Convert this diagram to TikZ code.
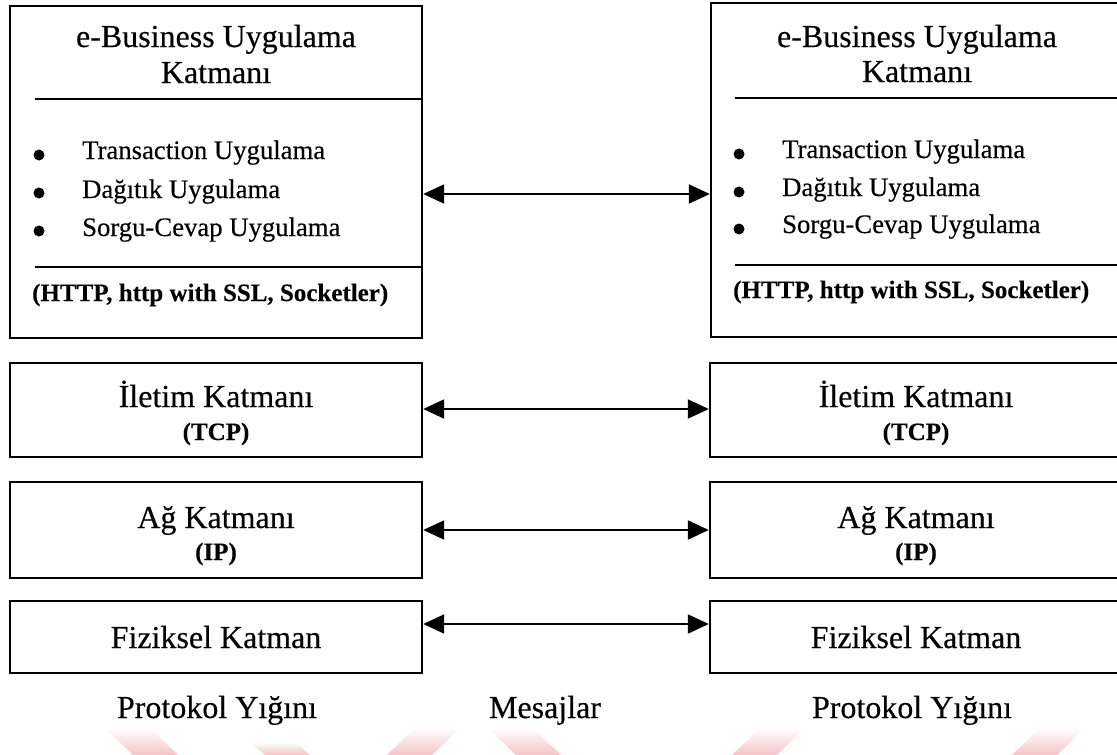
\documentclass[tikz,border=0pt]{standalone}
\usepackage{fontspec}
\setmainfont{Liberation Serif}[UprightFeatures={FakeBold=0.35},BoldFeatures={FakeBold=0.25}]
\usetikzlibrary{arrows.meta,calc}
\definecolor{markpink}{RGB}{246,196,200}
\begin{document}
\begin{tikzpicture}[x=1pt,y=-1pt,
  layerbox/.style={draw=black,line width=2.4pt,minimum width=412pt,inner sep=0pt},
  sepline/.style={line width=2.6pt},
  msg/.style={line width=2pt,{Triangle[length=21pt,width=19pt]}-{Triangle[length=21pt,width=19pt]}},
  bulletdot/.style={circle,fill=black,minimum size=11pt,inner sep=0pt},
  big/.style={inner sep=0pt,font=\fontsize{32}{38}\selectfont},
  small/.style={inner sep=0pt,font=\fontsize{26.7}{32}\selectfont},
  smallbold/.style={inner sep=0pt,font=\fontsize{25}{30}\selectfont\bfseries},
  band/.style={draw=none,top color=white,bottom color=markpink}]
\useasboundingbox (0,0) rectangle (1117,755);
\clip (0,0) rectangle (1117,755);

% ---- faint pink bands along the lower edge ----
\shade[band] (105,728) -- (150,728) -- (178,755) -- (133,755) -- cycle;
\shade[band] (250,742) -- (295,742) -- (310,755) -- (265,755) -- cycle;
\shade[band] (415,728) -- (460,728) -- (432,755) -- (387,755) -- cycle;
\shade[band] (488,728) -- (533,728) -- (561,755) -- (516,755) -- cycle;
\shade[band] (760,728) -- (805,728) -- (777,755) -- (732,755) -- cycle;
\shade[band] (1040,728) -- (1085,728) -- (1057,755) -- (1012,755) -- cycle;

% ---- left protocol stack ----
\node[layerbox,minimum height=332pt] (appL) at (216,172) {};
\node[layerbox,minimum height=94pt]  (tcpL) at (216,410) {};
\node[layerbox,minimum height=96pt]  (ipL)  at (216,530) {};
\node[layerbox,minimum height=72pt]  (phyL) at (216,637) {};

\coordinate (sAL) at (35,99);  \coordinate (sAR) at (appL.east |- 0,99);
\coordinate (sBL) at (35,267); \coordinate (sBR) at (appL.east |- 0,267);
\draw[sepline] (sAL) -- (sAR);
\draw[sepline] (sBL) -- (sBR);

\node[big,anchor=base] (hL1) at (216,47) {e-Business Uygulama};
\node[big,anchor=base] (hL2) at (216,83) {Katmanı};
\node[bulletdot] (bL1) at (39,155) {};
\node[bulletdot] (bL2) at (39,193) {};
\node[bulletdot] (bL3) at (39,231) {};
\node[small,anchor=base west] (tL1) at (82,159) {Transaction Uygulama};
\node[small,anchor=base west] (tL2) at (82,198) {Dağıtık Uygulama};
\node[small,anchor=base west] (tL3) at (82,236) {Sorgu-Cevap Uygulama};
\node[smallbold,anchor=base west] (pL) at (32,301) {(HTTP, http with SSL, Socketler)};

\node[big,anchor=base] (tcpL1) at (216,407) {İletim Katmanı};
\node[smallbold,anchor=base] (tcpL2) at (216,440) {(TCP)};
\node[big,anchor=base] (ipL1) at (216,528) {Ağ Katmanı};
\node[smallbold,anchor=base] (ipL2) at (216,560) {(IP)};
\node[big,anchor=base] (phyL1) at (216,648) {Fiziksel Katman};

% ---- right protocol stack ----
\node[layerbox,minimum height=334pt] (appR) at (917,170) {};
\node[layerbox,minimum height=94pt]  (tcpR) at (916,410) {};
\node[layerbox,minimum height=96pt]  (ipR)  at (916,530) {};
\node[layerbox,minimum height=72pt]  (phyR) at (916,637) {};

\coordinate (sCL) at (735,98);  \coordinate (sCR) at (appR.east |- 0,98);
\coordinate (sDL) at (735,265); \coordinate (sDR) at (appR.east |- 0,265);
\draw[sepline] (sCL) -- (sCR);
\draw[sepline] (sDL) -- (sDR);

\node[big,anchor=base] (hR1) at (917,47) {e-Business Uygulama};
\node[big,anchor=base] (hR2) at (917,82) {Katmanı};
\node[bulletdot] (bR1) at (739,154) {};
\node[bulletdot] (bR2) at (739,192) {};
\node[bulletdot] (bR3) at (739,229) {};
\node[small,anchor=base west] (tR1) at (782,158) {Transaction Uygulama};
\node[small,anchor=base west] (tR2) at (782,196) {Dağıtık Uygulama};
\node[small,anchor=base west] (tR3) at (782,233) {Sorgu-Cevap Uygulama};
\node[smallbold,anchor=base west] (pR) at (733,298) {(HTTP, http with SSL, Socketler)};

\node[big,anchor=base] (tcpR1) at (916,407) {İletim Katmanı};
\node[smallbold,anchor=base] (tcpR2) at (916,440) {(TCP)};
\node[big,anchor=base] (ipR1) at (916,528) {Ağ Katmanı};
\node[smallbold,anchor=base] (ipR2) at (916,560) {(IP)};
\node[big,anchor=base] (phyR1) at (916,648) {Fiziksel Katman};

% ---- messages between peer layers ----
\draw[msg] ($(appL.east)+(0,22)$) -- ($(appR.west)+(0,24)$);
\draw[msg] ($(tcpL.east)+(0,-1)$) -- ($(tcpR.west)+(0,-1)$);
\draw[msg] (ipL.east) -- (ipR.west);
\draw[msg] ($(phyL.east)+(0,-13)$) -- ($(phyR.west)+(0,-13)$);

% ---- captions ----
\node[big,anchor=base] (capL) at (217,718) {Protokol Yığını};
\node[big,anchor=base] (capM) at (545,718) {Mesajlar};
\node[big,anchor=base] (capR) at (912,718) {Protokol Yığını};
\end{tikzpicture}
\end{document}
